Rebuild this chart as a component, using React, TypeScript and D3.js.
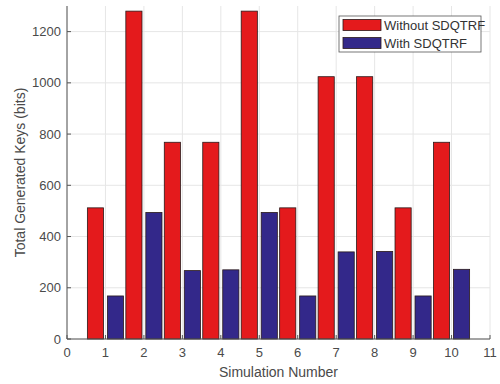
import React from "react";
import * as d3 from "d3";

const simulations = [1, 2, 3, 4, 5, 6, 7, 8, 9, 10];
const withoutSDQTRF = [512, 1280, 768, 768, 1280, 512, 1024, 1024, 512, 768];
const withSDQTRF = [168, 494, 267, 270, 494, 168, 340, 342, 168, 272];
const xTicks = [0, 1, 2, 3, 4, 5, 6, 7, 8, 9, 10, 11];
const yTicks = [0, 200, 400, 600, 800, 1000, 1200];
const seriesNames = ["Without SDQTRF", "With SDQTRF"];
const seriesColors = ["#e41a1c", "#33288a"];

export default function App() {
  const W = 500, H = 384;
  const x = d3.scaleLinear().domain([0, 11]).range([67, 490]);
  const y = d3.scaleLinear().domain([0, 1300]).range([339, 6]);
  const off = 0.26;
  const bw = 0.42;
  const font = "Helvetica, Arial, 'Liberation Sans', sans-serif";
  const textColor = "#4a4a4a";
  const series = [withoutSDQTRF, withSDQTRF];
  return (
    <svg width={W} height={H} style={{ position: "absolute", left: 0, top: 0, background: "#fff" }} fontFamily={font}>
      {xTicks.map((t) => (
        <line key={"gx" + t} x1={x(t)} x2={x(t)} y1={y(0)} y2={y(1300)} stroke="#e6e6e6" strokeWidth={1} />
      ))}
      {yTicks.map((t) => (
        <line key={"gy" + t} x1={x(0)} x2={x(11)} y1={y(t)} y2={y(t)} stroke="#e6e6e6" strokeWidth={1} />
      ))}
      {series.map((vals, si) =>
        vals.map((v, i) => {
          const cx = simulations[i] + (si === 0 ? -off : off);
          const x0 = x(cx - bw / 2);
          const x1 = x(cx + bw / 2);
          return (
            <rect key={si + "-" + i} x={x0} y={y(v)} width={x1 - x0} height={y(0) - y(v)}
              fill={seriesColors[si]} stroke="#2a1a1a" strokeWidth={0.8} />
          );
        })
      )}
      <line x1={x(0)} x2={x(0)} y1={y(0)} y2={y(1300)} stroke="#555" strokeWidth={1} />
      <line x1={x(0)} x2={x(11)} y1={y(0)} y2={y(0)} stroke="#555" strokeWidth={1} />
      {xTicks.map((t) => (
        <g key={"tx" + t}>
          <line x1={x(t)} x2={x(t)} y1={y(0)} y2={y(0) - 4} stroke="#555" />
          <text x={x(t)} y={357} textAnchor="middle" fontSize={13} fill={textColor}>{t}</text>
        </g>
      ))}
      {yTicks.map((t) => (
        <g key={"ty" + t}>
          <line x1={x(0)} x2={x(0) + 4} y1={y(t)} y2={y(t)} stroke="#555" />
          <text x={61} y={y(t) + 4.5} textAnchor="end" fontSize={13} fill={textColor}>{t}</text>
        </g>
      ))}
      <text x={(x(0) + x(11)) / 2} y={377} textAnchor="middle" fontSize={14} fill={textColor}>Simulation Number</text>
      <text transform={`translate(25, ${(y(0) + y(1300)) / 2}) rotate(-90)`} textAnchor="middle" fontSize={14} fill={textColor}>
        Total Generated Keys (bits)
      </text>
      <g>
        <rect x={339} y={16} width={142} height={36} fill="#fff" stroke="#555" strokeWidth={0.8} />
        {seriesNames.map((n, i) => (
          <g key={n}>
            <rect x={343} y={19.5 + i * 18} width={38} height={11} fill={seriesColors[i]} stroke="#2a1a1a" strokeWidth={0.8} />
            <text x={384} y={29.5 + i * 18} fontSize={13} fill="#333">{n}</text>
          </g>
        ))}
      </g>
    </svg>
  );
}
